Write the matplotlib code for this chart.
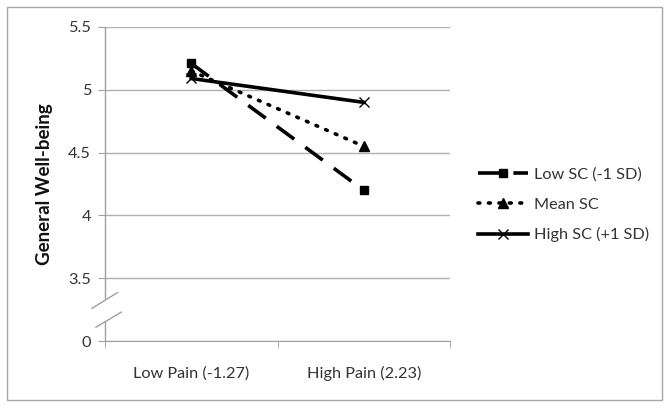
import matplotlib
matplotlib.use("Agg")
import matplotlib.pyplot as plt
from matplotlib.patches import Rectangle
import matplotlib.transforms as mtransforms

plt.rcParams['font.family'] = ['Lato', 'DejaVu Sans']

categories = ["Low Pain (-1.27)", "High Pain (2.23)"]
series_names = ["Low SC (-1 SD)", "Mean SC", "High SC (+1 SD)"]
low_sc = [5.21, 4.20]
mean_sc = [5.15, 4.55]
high_sc = [5.09, 4.90]
ytick_pos = [3.0, 3.5, 4.0, 4.5, 5.0, 5.5]
ytick_labels = ["0", "3.5", "4", "4.5", "5", "5.5"]

fig = plt.figure(figsize=(6.7, 4.08), dpi=100)
fig.patches.append(Rectangle((7/670, 8/408), 655/670, 393/408, transform=fig.transFigure,
                             fill=False, edgecolor='#a6a6a6', linewidth=1.0))
ax = fig.add_axes([105/670, 1-341/408, 345/670, 314/408])

x = list(range(len(categories)))
fs = 11.7
ax.plot(x, low_sc, color='black', linewidth=2.6, linestyle=(0, (6, 3.8)),
        marker='s', markersize=6, label=series_names[0])
ax.plot(x, mean_sc, color='black', linewidth=2.6, linestyle=(0, (0.5, 2.4)),
        dash_capstyle='round', marker='^', markersize=6.5, label=series_names[1])
ax.plot(x, high_sc, color='black', linewidth=2.6, linestyle='-',
        marker='x', markersize=6.5, markeredgewidth=1.0, label=series_names[2])

ax.set_xlim(-0.5, 1.5)
ax.set_ylim(3.0, 5.5)
ax.set_yticks(ytick_pos)
ax.set_yticklabels(ytick_labels, fontsize=fs, color='#333333')
ax.set_xticks(x)
ax.set_xticklabels(categories, fontsize=fs, color='#333333')
ax.set_xticks([-0.5, 0.5, 1.5], minor=True)
ax.tick_params(axis='x', which='major', length=0, pad=18)
ax.tick_params(axis='x', which='minor', length=5, color='#a0a0a0', direction='out')
ax.tick_params(axis='y', length=5, color='#a0a0a0', pad=5)
ax.grid(axis='y', color='#b0b0b0', linewidth=1.0)
ax.set_axisbelow(True)
for s in ['top', 'right', 'left']:
    ax.spines[s].set_visible(False)
ax.spines['bottom'].set_color('#a0a0a0')

# manual left axis with break
trans = mtransforms.blended_transform_factory(ax.transAxes, ax.transData)
ax.plot([0, 0], [3.34, 5.5], color='#a0a0a0', linewidth=1.0, transform=trans, clip_on=False)
ax.plot([0, 0], [3.0, 3.155], color='#a0a0a0', linewidth=1.0, transform=trans, clip_on=False)
dx = 13/345
ax.plot([-dx, dx*0.95], [3.26, 3.385], color='#a0a0a0', linewidth=1.0, transform=trans, clip_on=False)
ax.plot([-dx*0.7, dx*1.25], [3.11, 3.23], color='#a0a0a0', linewidth=1.0, transform=trans, clip_on=False)

ax.set_ylabel("General Well-being", fontsize=13.5, fontweight='bold', labelpad=11, color='#111111')

leg = fig.legend(loc='center left', bbox_to_anchor=(478/670, 1-205/408), frameon=False,
                 fontsize=fs, handlelength=3.1, handletextpad=0.35, labelspacing=0.95,
                 borderpad=0, borderaxespad=0)
for t in leg.get_texts():
    t.set_color('#333333')

fig.savefig("out.png", dpi=100)
